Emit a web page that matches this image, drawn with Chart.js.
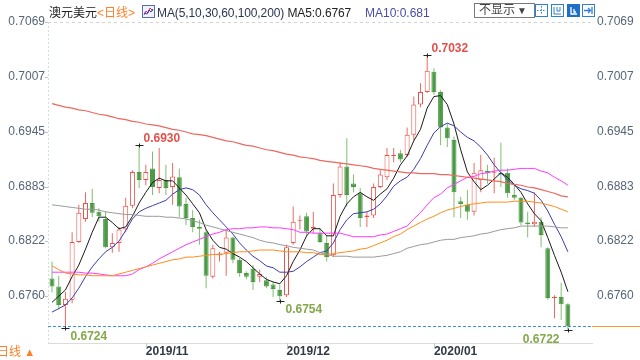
<!DOCTYPE html>
<html><head><meta charset="utf-8">
<script src="https://cdn.jsdelivr.net/npm/chart.js@4.4.1/dist/chart.umd.min.js"></script>
<style>
html,body{margin:0;padding:0;background:#fff;width:640px;height:360px;overflow:hidden;}
#wrap{position:relative;width:640px;height:360px;}
canvas{position:absolute;left:0;top:0;}
.t{position:absolute;font-size:12px;font-family:"Liberation Sans","Noto Sans CJK SC",sans-serif;white-space:nowrap;line-height:14px;}
.ic{position:absolute;top:4px;width:13px;height:13px;}
</style></head><body>
<div id="wrap">
<canvas id="c" width="640" height="360"></canvas>
<div class="t" style="left:49px;top:6px;color:#222;">澳元美元<span style="color:#ff7f27">&lt;日线&gt;</span></div>
<svg class="ic" style="left:142px;top:5px" width="13" height="13" viewBox="0 0 13 13"><rect x="0.5" y="0.5" width="12" height="12" fill="#eef2fb" stroke="#5a6fa8"/><polyline points="2,10 4,6 6,8 8,3 11,6" fill="none" stroke="#d33" stroke-width="1"/><polyline points="2,8 5,9 7,5 9,7 11,4" fill="none" stroke="#33c" stroke-width="1"/></svg>
<div class="t" style="left:157px;top:6px;color:#2b3553;letter-spacing:-0.1px;">MA(5,10,30,60,100,200)&nbsp;<span style="color:#222">MA5:0.6767</span></div>
<div class="t" style="left:365px;top:6px;color:#4b4ba6;">MA10:0.681</div>
<div class="t" style="left:474px;top:3px;width:55px;height:13px;line-height:13px;border:1px solid #7a7a7a;color:#444;padding-left:4px;box-sizing:content-box;">不显示<span style="font-size:10px;margin-left:2px">▼</span></div>
<svg class="ic" style="left:535px" width="13" height="13" viewBox="0 0 13 13"><rect x="0.5" y="0.5" width="12" height="12" fill="#fff" stroke="#2f7fd6"/><path d="M6.5 2v9M2 6.5h9" stroke="#2f7fd6" stroke-dasharray="1.5 1.5"/></svg>
<svg class="ic" style="left:551px" width="13" height="13" viewBox="0 0 13 13"><rect x="0.5" y="0.5" width="12" height="12" fill="#fff" stroke="#2f7fd6"/><path d="M3 3v7h7M6 3v4h3V3" fill="none" stroke="#2f7fd6"/></svg>
<svg class="ic" style="left:567px" width="13" height="13" viewBox="0 0 13 13"><rect x="0" y="0" width="13" height="13" fill="#1f6fc9"/><path d="M4 3v7h6M7 5v3h2" fill="none" stroke="#fff" stroke-width="1.3"/></svg>
<svg class="ic" style="left:582px" width="13" height="13" viewBox="0 0 13 13"><rect x="0.5" y="0.5" width="12" height="12" fill="#fff" stroke="#2f7fd6"/><path d="M2 6.5h6M6 4l2.5 2.5L6 9M10 3v7" fill="none" stroke="#2f7fd6" stroke-width="1.3"/></svg>
<div class="t" style="left:-3px;top:345px;color:#ff7f27;">日线 <span style="font-size:11px">▲</span></div>
</div>
<script>
const dates = [
'2019/10/14','2019/10/15','2019/10/16','2019/10/17','2019/10/18','2019/10/21','2019/10/22','2019/10/23','2019/10/24','2019/10/25','2019/10/28','2019/10/29','2019/10/30','2019/10/31',
'2019/11/01','2019/11/04','2019/11/05','2019/11/06','2019/11/07','2019/11/08','2019/11/11','2019/11/12','2019/11/13','2019/11/14','2019/11/15','2019/11/18','2019/11/19','2019/11/20','2019/11/21','2019/11/22','2019/11/25','2019/11/26','2019/11/27','2019/11/28','2019/11/29',
'2019/12/02','2019/12/03','2019/12/04','2019/12/05','2019/12/06','2019/12/09','2019/12/10','2019/12/11','2019/12/12','2019/12/13','2019/12/16','2019/12/17','2019/12/18','2019/12/19','2019/12/20','2019/12/23','2019/12/24','2019/12/25','2019/12/26','2019/12/27','2019/12/30','2019/12/31',
'2020/01/01','2020/01/02','2020/01/03','2020/01/06','2020/01/07','2020/01/08','2020/01/09','2020/01/10','2020/01/13','2020/01/14','2020/01/15','2020/01/16','2020/01/17','2020/01/20','2020/01/21','2020/01/22','2020/01/23','2020/01/24','2020/01/27','2020/01/28','2020/01/29'];

const openV = [0.6780,0.6771,0.6750,0.6756,0.6821,0.6847,0.6865,0.6855,0.6847,0.6815,
0.6820,0.6835,0.6862,0.6900,0.6891,0.6904,0.6882,0.6891,0.6883,0.6894,
0.6864,0.6848,0.6838,0.6832,0.6782,0.6806,0.6809,0.6826,0.6801,0.6786,
0.6791,0.6782,0.6778,0.6773,0.6767,0.6761,0.6820,0.6845,0.6850,0.6836,
0.6831,0.6820,0.6806,0.6874,0.6906,0.6887,0.6876,0.6849,0.6851,0.6883,
0.6894,0.6918,0.6921,0.6919,0.6942,0.6976,0.6990,0.7013,0.6990,0.6950,
0.6936,0.6867,0.6863,0.6855,0.6891,0.6901,0.6899,0.6899,0.6899,0.6874,
0.6871,0.6843,0.6841,0.6844,0.6814,0.6758,0.6759,0.6751];
const highV = [0.6799,0.6783,0.6765,0.6832,0.6863,0.6877,0.6881,0.6859,0.6856,0.6831,
0.6838,0.6871,0.6902,0.6930,0.6908,0.6923,0.6927,0.6908,0.6910,0.6904,
0.6871,0.6857,0.6846,0.6835,0.6818,0.6810,0.6835,0.6827,0.6803,0.6788,
0.6795,0.6790,0.6782,0.6776,0.6773,0.6818,0.6861,0.6851,0.6854,0.6855,
0.6837,0.6829,0.6887,0.6911,0.6938,0.6897,0.6882,0.6855,0.6887,0.6902,
0.6927,0.6927,0.6925,0.6950,0.6985,0.7000,0.7032,0.7017,0.6992,0.6955,
0.6940,0.6872,0.6880,0.6910,0.6919,0.6908,0.6916,0.6933,0.6904,0.6885,
0.6872,0.6855,0.6877,0.6849,0.6815,0.6761,0.6775,0.6752];
const lowV = [0.6764,0.6745,0.6724,0.6752,0.6820,0.6844,0.6849,0.6844,0.6814,0.6809,
0.6810,0.6832,0.6859,0.6882,0.6885,0.6874,0.6876,0.6874,0.6863,0.6849,
0.6840,0.6832,0.6818,0.6769,0.6780,0.6799,0.6783,0.6797,0.6782,0.6779,
0.6767,0.6776,0.6769,0.6759,0.6754,0.6759,0.6818,0.6835,0.6827,0.6831,
0.6820,0.6799,0.6804,0.6871,0.6861,0.6877,0.6838,0.6838,0.6848,0.6882,
0.6891,0.6911,0.6911,0.6917,0.6936,0.6973,0.6989,0.6987,0.6930,0.6928,
0.6849,0.6848,0.6846,0.6851,0.6877,0.6887,0.6876,0.6883,0.6871,0.6868,
0.6840,0.6826,0.6838,0.6815,0.6756,0.6735,0.6733,0.6722];
const closeV = [0.6771,0.6750,0.6757,0.6821,0.6854,0.6865,0.6854,0.6850,0.6815,0.6820,
0.6835,0.6862,0.6900,0.6891,0.6900,0.6883,0.6891,0.6882,0.6895,0.6861,
0.6848,0.6838,0.6836,0.6783,0.6814,0.6808,0.6826,0.6801,0.6786,0.6782,
0.6776,0.6785,0.6771,0.6768,0.6760,0.6815,0.6844,0.6846,0.6833,0.6838,
0.6821,0.6804,0.6874,0.6906,0.6874,0.6883,0.6848,0.6851,0.6883,0.6897,
0.6919,0.6919,0.6914,0.6942,0.6976,0.6990,0.7014,0.6990,0.6950,0.6938,
0.6877,0.6864,0.6855,0.6899,0.6902,0.6899,0.6900,0.6897,0.6876,0.6871,
0.6843,0.6841,0.6844,0.6829,0.6758,0.6759,0.6751,0.6726];

const ma5 = [0.6753,0.6760,0.6767,0.6782,0.6795,0.6813,0.6832,0.6849,0.6849,0.6843,
0.6836,0.6838,0.6850,0.6865,0.6877,0.6888,0.6893,0.6890,0.6890,0.6882,
0.6874,0.6864,0.6854,0.6835,0.6823,0.6815,0.6813,0.6808,0.6804,0.6799,
0.6792,0.6785,0.6779,0.6776,0.6774,0.6783,0.6799,0.6812,0.6828,0.6836,
0.6836,0.6828,0.6828,0.6850,0.6864,0.6872,0.6877,0.6872,0.6868,0.6875,
0.6881,0.6893,0.6908,0.6918,0.6935,0.6948,0.6972,0.6985,0.6986,0.6976,
0.6954,0.6925,0.6900,0.6889,0.6880,0.6885,0.6892,0.6899,0.6894,0.6886,
0.6877,0.6864,0.6853,0.6845,0.6826,0.6806,0.6787,0.6765];
const ma10 = [0.6742,0.6746,0.6750,0.6758,0.6769,0.6782,0.6793,0.6802,0.6810,0.6815,
0.6822,0.6834,0.6847,0.6855,0.6859,0.6862,0.6865,0.6868,0.6875,0.6880,
0.6882,0.6880,0.6874,0.6863,0.6854,0.6846,0.6838,0.6830,0.6820,0.6812,
0.6805,0.6800,0.6794,0.6792,0.6787,0.6787,0.6788,0.6793,0.6799,0.6804,
0.6809,0.6811,0.6820,0.6835,0.6846,0.6853,0.6854,0.6855,0.6858,0.6864,
0.6873,0.6884,0.6890,0.6894,0.6903,0.6915,0.6930,0.6944,0.6951,0.6955,
0.6952,0.6945,0.6939,0.6935,0.6928,0.6919,0.6908,0.6899,0.6891,0.6885,
0.6881,0.6879,0.6876,0.6868,0.6856,0.6841,0.6827,0.6810];
const ma30 = [0.6787,0.6787,0.6787,0.6787,0.6787,0.6786,0.6786,0.6785,0.6784,0.6783,
0.6783,0.6783,0.6785,0.6790,0.6793,0.6797,0.6802,0.6806,0.6810,0.6814,
0.6818,0.6821,0.6824,0.6827,0.6830,0.6832,0.6835,0.6836,0.6836,0.6837,
0.6837,0.6838,0.6838,0.6837,0.6837,0.6836,0.6835,0.6832,0.6832,0.6831,
0.6831,0.6831,0.6831,0.6831,0.6829,0.6827,0.6827,0.6827,0.6827,0.6829,
0.6830,0.6833,0.6836,0.6839,0.6847,0.6854,0.6863,0.6871,0.6875,0.6882,
0.6886,0.6890,0.6894,0.6895,0.6898,0.6899,0.6901,0.6902,0.6902,0.6903,
0.6904,0.6904,0.6904,0.6901,0.6899,0.6894,0.6890,0.6885];
const ma60 = [0.6794,0.6790,0.6786,0.6785,0.6784,0.6784,0.6783,0.6783,0.6783,0.6783,
0.6785,0.6787,0.6789,0.6791,0.6793,0.6795,0.6797,0.6799,0.6801,0.6802,
0.6804,0.6804,0.6805,0.6806,0.6807,0.6807,0.6808,0.6809,0.6810,0.6810,
0.6811,0.6812,0.6812,0.6812,0.6811,0.6810,0.6810,0.6810,0.6809,0.6809,
0.6807,0.6807,0.6808,0.6809,0.6810,0.6811,0.6813,0.6814,0.6817,0.6820,
0.6823,0.6827,0.6830,0.6835,0.6839,0.6843,0.6847,0.6850,0.6854,0.6857,
0.6859,0.6861,0.6863,0.6864,0.6865,0.6866,0.6866,0.6866,0.6866,0.6867,
0.6867,0.6867,0.6866,0.6865,0.6863,0.6861,0.6858,0.6855];
const ma100 = [0.6863,0.6862,0.6861,0.6860,0.6859,0.6858,0.6858,0.6857,0.6855,0.6854,
0.6853,0.6852,0.6852,0.6851,0.6850,0.6850,0.6850,0.6849,0.6849,0.6848,
0.6847,0.6845,0.6843,0.6840,0.6838,0.6836,0.6834,0.6832,0.6830,0.6828,
0.6826,0.6823,0.6821,0.6820,0.6818,0.6817,0.6815,0.6814,0.6813,0.6812,
0.6809,0.6807,0.6805,0.6805,0.6805,0.6804,0.6804,0.6804,0.6804,0.6805,
0.6806,0.6808,0.6810,0.6814,0.6816,0.6818,0.6819,0.6821,0.6823,0.6824,
0.6824,0.6826,0.6827,0.6828,0.6830,0.6831,0.6833,0.6835,0.6836,0.6837,
0.6839,0.6839,0.6839,0.6839,0.6839,0.6838,0.6837,0.6837];
const ma200 = [0.6977,0.6975,0.6973,0.6972,0.6970,0.6969,0.6967,0.6965,0.6964,0.6962,
0.6960,0.6959,0.6957,0.6956,0.6954,0.6953,0.6952,0.6950,0.6948,0.6947,
0.6945,0.6943,0.6942,0.6941,0.6939,0.6937,0.6935,0.6934,0.6932,0.6930,
0.6929,0.6927,0.6925,0.6924,0.6922,0.6920,0.6919,0.6917,0.6916,0.6915,
0.6913,0.6912,0.6911,0.6910,0.6909,0.6908,0.6907,0.6906,0.6904,0.6903,
0.6902,0.6901,0.6900,0.6899,0.6899,0.6898,0.6898,0.6898,0.6897,0.6897,
0.6896,0.6895,0.6894,0.6893,0.6892,0.6891,0.6890,0.6889,0.6887,0.6886,
0.6885,0.6883,0.6882,0.6880,0.6878,0.6876,0.6873,0.6872];

const yTicks = [0.6760, 0.6822, 0.6883, 0.6945, 0.7007, 0.7069];
const xTickLabels = ['2019/11', '2019/12', '2020/01'];
const markIdx = [13, 56, 2, 34, 77];
const markType = ['high', 'high', 'low', 'low', 'low'];

const xTickIdx = xTickLabels.map(l => dates.findIndex(d => d.startsWith(l)));
const UP = '#e8524a', UPW = '#ea6a62', DN = '#4c9a45', DNW = '#80bd72';
const isUp = i => closeV[i] >= openV[i];
const FONT = '"Liberation Sans", "Noto Sans CJK SC", sans-serif';

const maDefs = [
  {label:'MA200', data:ma200, color:'#ec6860', w:1.2},
  {label:'MA100', data:ma100, color:'#9a9a9a', w:1},
  {label:'MA60', data:ma60, color:'#ff8c1a', w:1},
  {label:'MA30', data:ma30, color:'#ff38ff', w:1},
  {label:'MA10', data:ma10, color:'#3c3cae', w:1},
  {label:'MA5', data:ma5, color:'#1a1a1a', w:1}
];

const lineSets = maDefs.map(m => ({
  type:'line', label:m.label, data:m.data.map((v,i)=>({x:i,y:v})),
  borderColor:m.color, borderWidth:m.w, pointRadius:0, tension:0, fill:false, order:0
}));

const extras = {
  id:'extras',
  beforeDatasetsDraw(chart){
    const {ctx, chartArea:a, scales:{x:xs, y:ys}} = chart;
    ctx.save();
    ctx.lineWidth = 1;
    ctx.strokeStyle = '#d2d2d2';
    ctx.setLineDash([3,3]);
    ctx.beginPath(); ctx.moveTo(a.left, Math.round(a.top)+0.5); ctx.lineTo(a.right, Math.round(a.top)+0.5); ctx.stroke();
    ctx.strokeStyle = '#d3dde8';
    ctx.setLineDash([2,2]);
    ctx.beginPath(); ctx.moveTo(Math.round(a.left)+0.5, a.top); ctx.lineTo(Math.round(a.left)+0.5, a.bottom); ctx.stroke();
    ctx.setLineDash([]);
    ctx.strokeStyle = '#b8c2cc';
    yTicks.forEach(v => { const p = Math.round(ys.getPixelForValue(v))+0.5; ctx.beginPath(); ctx.moveTo(a.left-3, p); ctx.lineTo(a.left, p); ctx.stroke(); });
    ctx.strokeStyle = '#c8c8c8';
    xTickIdx.forEach(i => { const p = Math.round(xs.getPixelForValue(i))+0.5; ctx.beginPath(); ctx.moveTo(p, a.bottom); ctx.lineTo(p, a.bottom+5); ctx.stroke(); });
    ctx.restore();
  },
  afterDatasetsDraw(chart){
    const {ctx, chartArea:a, scales:{x:xs, y:ys}} = chart;
    const last = closeV[closeV.length-1];
    const py = Math.round(ys.getPixelForValue(last))+0.5;
    ctx.save();
    ctx.lineWidth = 1;
    ctx.strokeStyle = '#3d8ee6'; ctx.setLineDash([3,2]);
    ctx.beginPath(); ctx.moveTo(a.left, py); ctx.lineTo(a.right, py); ctx.stroke();
    ctx.setLineDash([]);
    ctx.strokeStyle = '#ff9a2e';
    ctx.beginPath(); ctx.moveTo(a.right, py); ctx.lineTo(chart.width, py); ctx.stroke();
    ctx.beginPath(); ctx.rect(a.left, 0, a.right-a.left, a.bottom); ctx.clip();
    ctx.font = 'bold 12px ' + FONT;
    ctx.textBaseline = 'middle';
    markIdx.forEach((i,k) => {
      const hi = markType[k] === 'high';
      const v = hi ? highV[i] : lowV[i];
      const px = Math.round(xs.getPixelForValue(i))+0.5;
      const my = Math.round(ys.getPixelForValue(v))+0.5;
      ctx.strokeStyle = '#222';
      ctx.beginPath(); ctx.moveTo(px-4, my); ctx.lineTo(px+4, my); ctx.moveTo(px, my-2); ctx.lineTo(px, my+2); ctx.stroke();
      const txt = v.toFixed(4);
      if (hi) {
        ctx.fillStyle = '#e5504a'; ctx.textAlign = 'left';
        ctx.fillText(txt, px+4, my-7);
      } else if (px > a.right - 60) {
        ctx.fillStyle = '#84a84a'; ctx.textAlign = 'right';
        ctx.fillText(txt, px-9, my+9);
      } else {
        ctx.fillStyle = '#84a84a'; ctx.textAlign = 'left';
        ctx.fillText(txt, px+5, my+8);
      }
    });
    ctx.restore();
  }
};

const yCommon = {
  type:'linear', min:0.67072, max:0.7069,
  afterBuildTicks: s => { s.ticks = yTicks.map(v => ({value:v})); },
  ticks:{ callback: v => Number(v).toFixed(4), color:'#566578', font:{size:12, family:FONT}, padding:3, autoSkip:false },
  grid:{ display:false, drawTicks:false },
  border:{ display:false }
};

new Chart(document.getElementById('c'), {
  type:'bar',
  data:{
    datasets:[
      ...lineSets,
      { type:'bar', label:'body', data:dates.map((d,i)=>({x:i, y:[openV[i], closeV[i]]})),
        backgroundColor: c => isUp(c.dataIndex) ? '#ffffff' : DN,
        borderColor: c => isUp(c.dataIndex) ? UP : DN,
        borderWidth:1, borderSkipped:false, barThickness:5, minBarLength:1, grouped:false, inflateAmount:0, order:1 },
      { type:'bar', label:'wick', data:dates.map((d,i)=>({x:i, y:[lowV[i], highV[i]]})),
        backgroundColor: c => isUp(c.dataIndex) ? UPW : DNW,
        borderWidth:0, barThickness:1, grouped:false, inflateAmount:0, order:2 }
    ]
  },
  options:{
    responsive:false, animation:false, devicePixelRatio:1, events:[],
    layout:{ padding:{ top:22, left:0, right:0, bottom:0 } },
    plugins:{ legend:{display:false}, tooltip:{enabled:false}, title:{display:false} },
    scales:{
      x:{ type:'linear', min:-0.6, max:80.6, offset:false, stacked:false,
        afterBuildTicks: s => { s.ticks = xTickIdx.map(v => ({value:v})); },
        ticks:{ callback:(v,i) => xTickLabels[i], align:'start', autoSkip:false, maxRotation:0, color:'#333a44',
          font:{size:12, weight:'bold', family:FONT}, padding:1 },
        grid:{ display:false, drawTicks:false },
        border:{ display:true, color:'#dcdcdc' },
        afterFit: s => { s.height = 17; } },
      y:{ ...yCommon, position:'left', afterFit: s => { s.width = 48; } },
      y2:{ ...yCommon, position:'right', ticks:{...yCommon.ticks, padding:5}, afterFit: s => { s.width = 48; } }
    }
  },
  plugins:[extras]
});
</script>
</body></html>
